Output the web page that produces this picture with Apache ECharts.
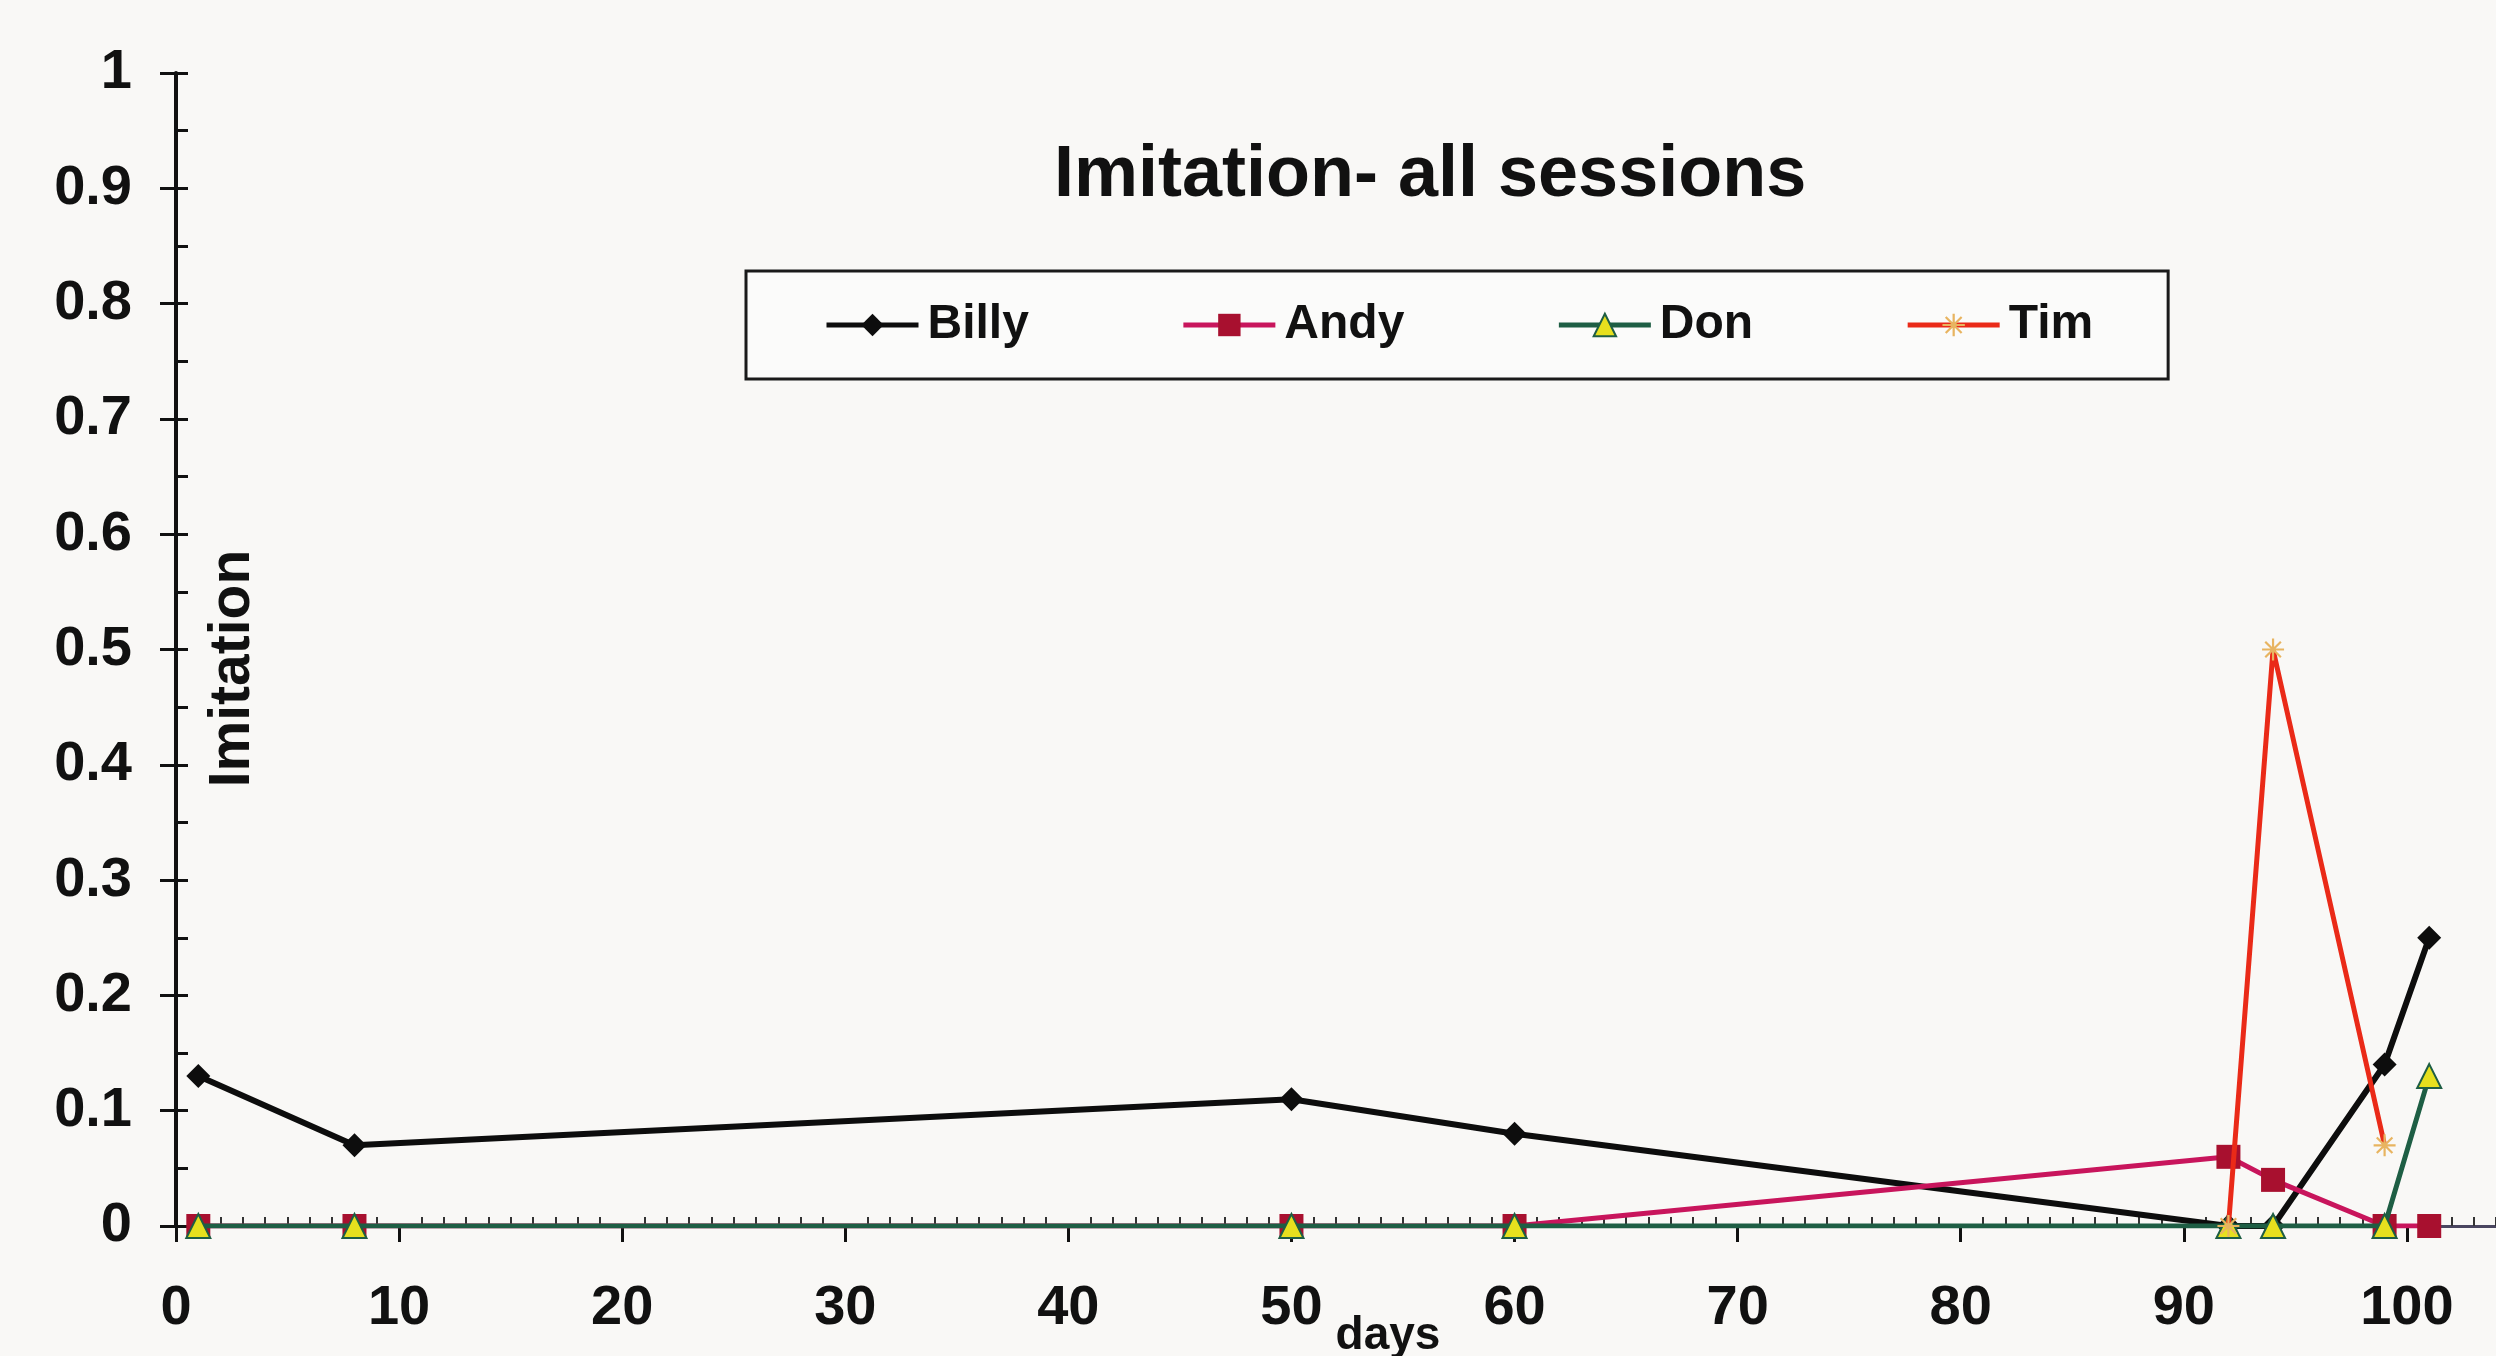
<!DOCTYPE html>
<html>
<head>
<meta charset="utf-8">
<script src="https://cdn.jsdelivr.net/npm/echarts@6/dist/echarts.min.js"></script>
<style>
html,body{margin:0;padding:0;background:#f9f8f6;}
#chart{width:2496px;height:1356px;}
</style>
</head>
<body>
<div id="chart"></div>
<script>
// ---- data ----
const days  = [1, 8, 50, 60, 92, 94, 99, 101];
const billy = [0.13, 0.07, 0.11, 0.08, 0, 0, 0.14, 0.25];
const andy  = [0, 0, 0, 0, 0.06, 0.04, 0, 0];
const don   = [0, 0, 0, 0, 0, 0, 0, 0.13];
const tim   = [null, null, null, null, 0, 0.5, 0.07, null];
const seriesNames = ['Billy', 'Andy', 'Don', 'Tim'];
const xTickValues = [0, 10, 20, 30, 40, 50, 60, 70, 80, 90, 100];
const yTickValues = [0, 0.1, 0.2, 0.3, 0.4, 0.5, 0.6, 0.7, 0.8, 0.9, 1];
const chartTitle = 'Imitation- all sessions';
const xName = 'days';
const yName = 'Imitation';

const FONT = '"Liberation Sans", Arial, Helvetica, sans-serif';
const pair = arr => days.map((d, i) => [d, arr[i]]);
const asterisk = 'path://M9 0h2v20h-2z M0 9h20v2H0z M2.2 3.6l1.4-1.4 14.2 14.2-1.4 1.4z M16.4 2.2l1.4 1.4-14.2 14.2-1.4-1.4z';

const gridPos = {left: 176, top: 73, bottom: 130, right: -134, containLabel: false, outerBoundsMode: 'none'};

const chart = echarts.init(document.getElementById('chart'), null, {renderer: 'canvas'});
chart.setOption({
  backgroundColor: '#f9f8f6',
  animation: false,
  title: {
    text: chartTitle,
    left: 1054, top: 140, padding: 0,
    textStyle: {fontFamily: FONT, fontWeight: 'bold', fontSize: 72, color: '#111'}
  },
  legend: {
    data: seriesNames.map(n => ({name: n})),
    left: 746, top: 271,
    orient: 'horizontal',
    padding: [30, 75, 30, 78],
    itemGap: 152,
    itemWidth: 92, itemHeight: 28,
    borderColor: '#1a1a1a', borderWidth: 3,
    backgroundColor: '#fbfbfa',
    lineStyle: {width: 5},
    textStyle: {fontFamily: FONT, fontWeight: 'bold', fontSize: 48, color: '#111', padding: [0, 0, 0, 4]}
  },
  grid: [
    Object.assign({}, gridPos),
    Object.assign({}, gridPos)
  ],
  xAxis: [
    {
      type: 'value', gridIndex: 0, position: 'bottom',
      min: 0, max: 110, interval: 10,
      name: xName, nameLocation: 'middle', nameGap: 87, nameMoveOverlap: false,
      nameTextStyle: {fontFamily: FONT, fontWeight: 'bold', fontSize: 46, color: '#111', padding: [0, 30, 0, 0]},
      axisLine: {show: true, onZero: false, lineStyle: {color: '#111', width: 3}},
      axisTick: {show: true, inside: false, length: 16, lineStyle: {color: '#111', width: 3}},
      axisLabel: {
        margin: 55, fontFamily: FONT, fontWeight: 'bold', fontSize: 56, color: '#111',
        formatter: v => xTickValues.indexOf(v) >= 0 ? String(v) : ''
      },
      splitLine: {show: false}
    },
    {
      type: 'value', gridIndex: 0, position: 'top',
      min: 0, max: 110, interval: 10,
      axisLine: {show: true, lineStyle: {color: '#4a4660', width: 3}},
      axisTick: {show: false}, axisLabel: {show: false}, splitLine: {show: false}
    },
    {
      type: 'value', gridIndex: 1, position: 'bottom',
      min: 0, max: 110, interval: 10,
      axisLine: {show: false},
      axisTick: {show: true, inside: true, length: 1, lineStyle: {color: 'rgba(0,0,0,0)', width: 1}},
      minorTick: {show: true, splitNumber: 10, length: 9, lineStyle: {color: '#333', width: 2}},
      axisLabel: {show: false}, splitLine: {show: false}, minorSplitLine: {show: false}
    }
  ],
  yAxis: [
    {
      type: 'value', gridIndex: 0, position: 'left',
      min: 0, max: 1, interval: 0.1,
      name: yName, nameLocation: 'middle', nameGap: -86, nameMoveOverlap: false,
      nameTextStyle: {fontFamily: FONT, fontWeight: 'bold', fontSize: 57, color: '#111', padding: [0, 38, 0, 0]},
      axisLine: {show: true, onZero: false, lineStyle: {color: '#111', width: 4}},
      axisTick: {show: true, inside: false, length: 16, lineStyle: {color: '#111', width: 3}},
      axisLabel: {
        margin: 44, fontFamily: FONT, fontWeight: 'bold', fontSize: 56, color: '#111',
        formatter: v => {
          const t = yTickValues.find(y => Math.abs(y - v) < 1e-9);
          return t === undefined ? '' : String(t);
        }
      },
      splitLine: {show: false}
    },
    {
      type: 'value', gridIndex: 1, position: 'left',
      min: 0, max: 1, interval: 0.1,
      axisLine: {show: false},
      axisTick: {show: true, inside: true, length: 12, lineStyle: {color: '#111', width: 3}},
      minorTick: {show: true, splitNumber: 2, length: 12, lineStyle: {color: '#111', width: 3}},
      axisLabel: {show: false}, splitLine: {show: false}, minorSplitLine: {show: false}
    }
  ],
  series: [
    {
      name: 'Billy', type: 'line', xAxisIndex: 0, yAxisIndex: 0,
      data: pair(billy),
      symbol: 'diamond', symbolSize: 24,
      color: '#0d0d0d',
      lineStyle: {color: '#0d0d0d', width: 6},
      itemStyle: {color: '#0d0d0d'},
      z: 3
    },
    {
      name: 'Andy', type: 'line', xAxisIndex: 0, yAxisIndex: 0,
      data: pair(andy),
      symbol: 'rect', symbolSize: 24,
      color: '#c8155c',
      lineStyle: {color: '#c8155c', width: 5},
      itemStyle: {color: '#a8102f'},
      z: 4
    },
    {
      name: 'Don', type: 'line', xAxisIndex: 0, yAxisIndex: 0,
      data: pair(don),
      symbol: 'triangle', symbolSize: 24,
      color: '#1e5e44',
      lineStyle: {color: '#1e5e44', width: 5},
      itemStyle: {color: '#e6e01e', borderColor: '#1e5e44', borderWidth: 2},
      z: 5
    },
    {
      name: 'Tim', type: 'line', xAxisIndex: 0, yAxisIndex: 0,
      data: pair(tim),
      connectNulls: false,
      symbol: asterisk, symbolSize: 22,
      color: '#ea2a18',
      lineStyle: {color: '#ea2a18', width: 5},
      itemStyle: {color: '#e8b460'},
      z: 6
    }
  ]
});
</script>
</body>
</html>
